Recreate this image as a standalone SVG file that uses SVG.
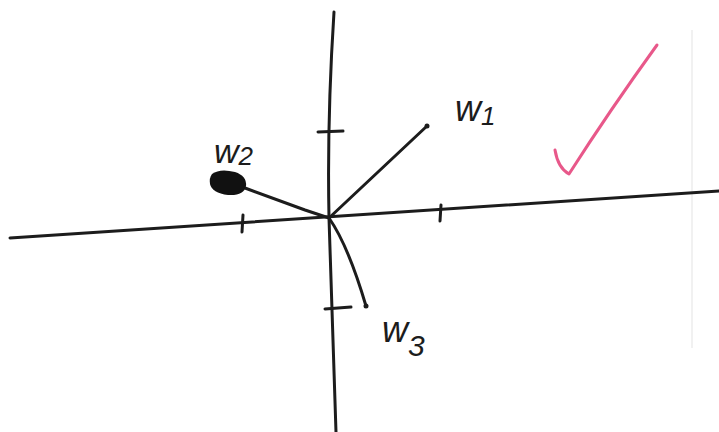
<svg xmlns="http://www.w3.org/2000/svg" width="719" height="432" viewBox="0 0 719 432">
<style>
.ink{fill:none;stroke:#1c1c1c;stroke-width:3;stroke-linecap:round;stroke-linejoin:round}
.lbl{font-family:"Liberation Sans",sans-serif;font-style:italic;fill:#1c1c1c}
</style>
<rect width="719" height="432" fill="#fff"/>
<line x1="692" y1="30" x2="692" y2="348" stroke="#ececec" stroke-width="1.5"/>
<g id="axes">
<path class="ink" d="M10,238 Q330,218 719,191"/>
<path class="ink" d="M334,12 Q327,120 329,218 Q333,330 336,432"/>
<path class="ink" d="M243,215 L242,232"/>
<path class="ink" d="M441,205 L440,221"/>
<path class="ink" d="M318,132 L343,131"/>
<path class="ink" d="M325,309 L351,307"/>
</g>
<g id="vectors">
<path class="ink" d="M329,218 L427,126"/>
<circle cx="427" cy="126" r="2.5" fill="#1c1c1c"/>
<path class="ink" d="M329,218 L305,210 L245,188"/>
<path d="M212,174 Q220,168 235,172 Q247,176 246,186 Q244,196 228,195 Q212,193 210,184 Q209,178 212,174 Z" fill="#111"/>
<path class="ink" d="M329,218 Q348,245 366,306"/>
<circle cx="366" cy="306" r="2.5" fill="#1c1c1c"/>
</g>
<g id="labels">
<text class="lbl" x="455" y="121" font-size="36">w<tspan font-size="26" dy="4">1</tspan></text>
<text class="lbl" x="214" y="163" font-size="34">w<tspan font-size="26" dy="2">2</tspan></text>
<text class="lbl" x="382" y="342" font-size="36">w<tspan font-size="30" dy="14">3</tspan></text>
</g>
<g id="check">
<path d="M555,150 Q558,168 569,174 Q610,110 657,45" fill="none" stroke="#e8588a" stroke-width="3" stroke-linecap="round" stroke-linejoin="round"/>
</g>
</svg>
